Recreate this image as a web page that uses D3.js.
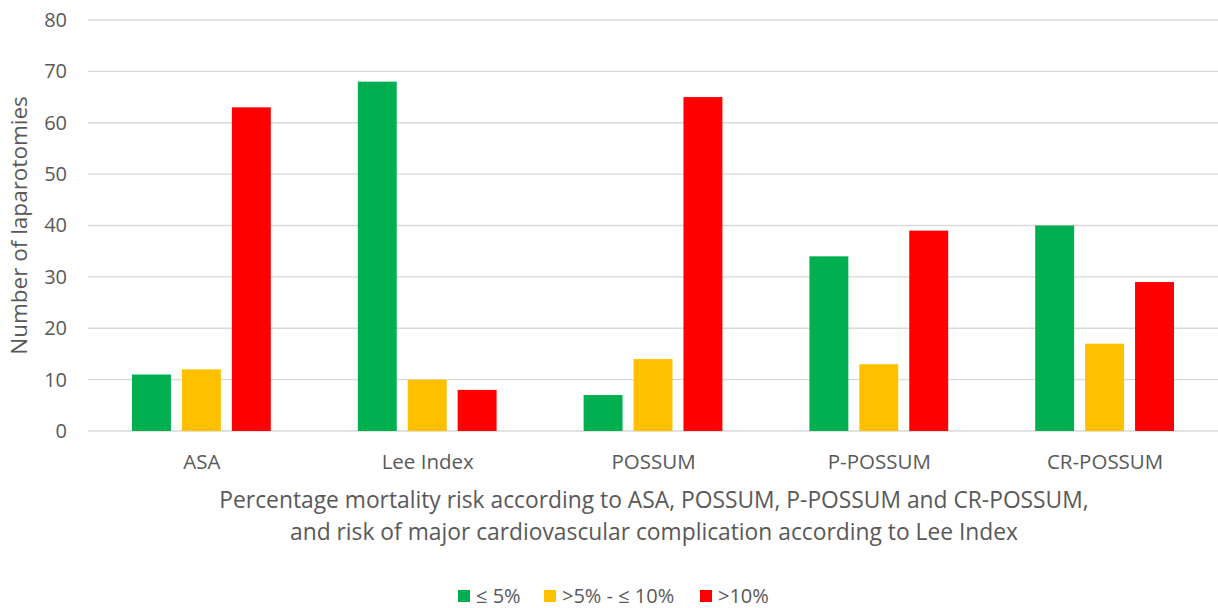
<!DOCTYPE html>
<html>
<head>
<meta charset="utf-8">
<script src="https://cdn.jsdelivr.net/npm/d3@7"></script>
<style>
  html, body { margin: 0; padding: 0; background: #fff; }
  svg text { font-family: "Open Sans", "Liberation Sans", sans-serif; fill: #595959; }
</style>
</head>
<body>
<svg id="chart" width="1218" height="608"></svg>
<script>
// Risk-score categories and the three risk bands
const categories = ["ASA", "Lee Index", "POSSUM", "P-POSSUM", "CR-POSSUM"];
const seriesNames = ["\u2264 5%", ">5% - \u2264 10%", ">10%"];
const lowRisk = [11, 68, 7, 34, 40];
const midRisk = [12, 10, 14, 13, 17];
const highRisk = [63, 8, 65, 39, 29];
const yTicks = [0, 10, 20, 30, 40, 50, 60, 70, 80];
const colors = ["#00B050", "#FFC000", "#FF0000"];

const seriesValues = [lowRisk, midRisk, highRisk];

const svg = d3.select("#chart");
const margin = { left: 89, right: 0, top: 20, bottom: 177 };
const W = 1218, H = 608;

const x = d3.scaleBand().domain(categories).range([margin.left, W - margin.right]).paddingInner(0).paddingOuter(0);
const inner = d3.scaleBand().domain(d3.range(seriesNames.length)).range([43, x.bandwidth() - 44]).paddingInner(0.22).paddingOuter(0);
const y = d3.scaleLinear().domain([0, 80]).range([H - margin.bottom, margin.top]);

// Horizontal gridlines
svg.append("g").selectAll("line").data(yTicks).join("line")
  .attr("x1", margin.left - 1).attr("x2", W)
  .attr("y1", d => y(d)).attr("y2", d => y(d))
  .attr("stroke", "#d9d9d9").attr("stroke-width", 1.3);

// Y axis labels
const yAxis = d3.axisLeft(y).tickValues(yTicks).tickSize(0).tickPadding(0);
const yg = svg.append("g").attr("transform", `translate(${67},0)`).call(yAxis);
yg.select(".domain").remove();
yg.selectAll("text").attr("font-size", 20).style("fill", "#595959")
  .style("font-family", "'Open Sans', sans-serif");

// Bars
const groups = svg.append("g").selectAll("g").data(categories).join("g")
  .attr("transform", d => `translate(${x(d)},0)`);
groups.selectAll("rect")
  .data((c, i) => seriesValues.map((vals, s) => ({ s, v: vals[i] })))
  .join("rect")
  .attr("x", d => inner(d.s))
  .attr("width", inner.bandwidth())
  .attr("y", d => y(d.v))
  .attr("height", d => y(0) - y(d.v))
  .attr("fill", d => colors[d.s]);

// Category labels
const xAxis = d3.axisBottom(x).tickSize(0).tickPadding(0);
const xg = svg.append("g").attr("transform", `translate(0,${y(0) + 38})`).call(xAxis);
xg.select(".domain").remove();
xg.selectAll("text").attr("font-size", 20.5).attr("dy", 0).style("fill", "#595959")
  .style("font-family", "'Open Sans', sans-serif");

// Axis titles
svg.append("text")
  .attr("transform", `translate(27,${(y(0) + y(80)) / 2}) rotate(-90)`)
  .attr("text-anchor", "middle").attr("font-size", 22.5)
  .text("Number of laparotomies");

const xTitle = svg.append("text").attr("text-anchor", "middle").attr("font-size", 22.8);
xTitle.append("tspan").attr("x", 654).attr("y", 508)
  .text("Percentage mortality risk according to ASA, POSSUM, P-POSSUM and CR-POSSUM,");
xTitle.append("tspan").attr("x", 654).attr("y", 540)
  .text("and risk of major cardiovascular complication according to Lee Index");

// Legend
const legendX = [458, 544, 700];
const legend = svg.append("g").selectAll("g").data(seriesNames).join("g")
  .attr("transform", (d, i) => `translate(${legendX[i]},590)`);
legend.append("rect").attr("width", 12).attr("height", 12).attr("y", 0)
  .attr("fill", (d, i) => colors[i]);
legend.append("text").attr("x", 18).attr("y", 12.5).attr("font-size", 20).text(d => d);
</script>
</body>
</html>
